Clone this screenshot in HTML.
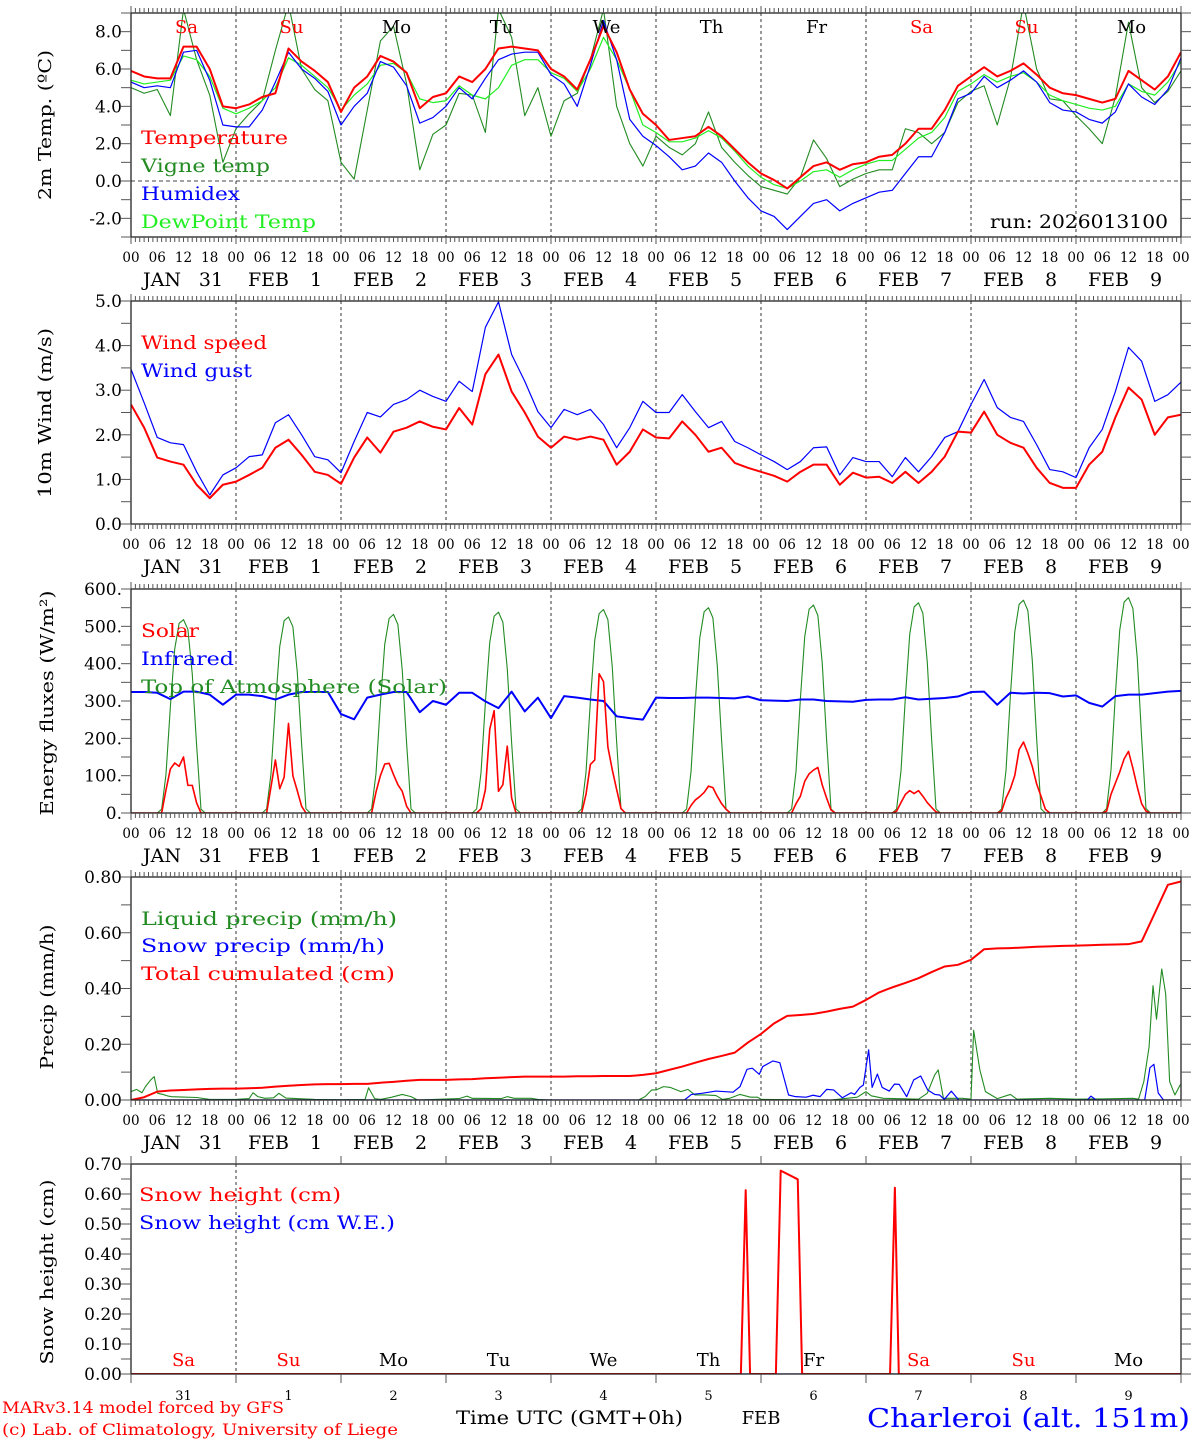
<!DOCTYPE html>
<html><head><meta charset="utf-8"><title>MAR forecast Charleroi</title>
<style>
html,body{margin:0;padding:0;background:#fff;}
svg{display:block;}
text{font-family:"DejaVu Serif","Liberation Serif",serif;}
</style></head>
<body>
<svg id="chart" width="1194" height="1440" viewBox="0 0 1194 1440" xmlns="http://www.w3.org/2000/svg">
<defs>
<clipPath id="c0"><rect x="131" y="13" width="1050" height="224"/></clipPath>
<clipPath id="c1"><rect x="131" y="301" width="1050" height="223"/></clipPath>
<clipPath id="c2"><rect x="131" y="589" width="1050" height="224"/></clipPath>
<clipPath id="c3"><rect x="131" y="877" width="1050" height="223"/></clipPath>
<clipPath id="c4"><rect x="131" y="1164" width="1050" height="210"/></clipPath>
</defs>
<g id="grid"></g>
<g id="marks"></g>
<g id="axes"></g>

<!-- Legends -->
<g font-size="19">
<text x="141" y="144" fill="#ff0000" textLength="147" lengthAdjust="spacingAndGlyphs">Temperature</text>
<text x="141" y="172" fill="#228b22" textLength="129" lengthAdjust="spacingAndGlyphs">Vigne temp</text>
<text x="141" y="200" fill="#0000ff" textLength="99" lengthAdjust="spacingAndGlyphs">Humidex</text>
<text x="141" y="228" fill="#22ee22" textLength="175" lengthAdjust="spacingAndGlyphs">DewPoint Temp</text>
<text x="990" y="228" fill="#000" textLength="178" lengthAdjust="spacingAndGlyphs">run: 2026013100</text>
</g>
<g font-size="19">
<text x="141" y="349" fill="#ff0000" textLength="126" lengthAdjust="spacingAndGlyphs">Wind speed</text>
<text x="141" y="377" fill="#0000ff" textLength="111" lengthAdjust="spacingAndGlyphs">Wind gust</text>
</g>
<g font-size="19">
<text x="141" y="637" fill="#ff0000" textLength="58" lengthAdjust="spacingAndGlyphs">Solar</text>
<text x="141" y="665" fill="#0000ff" textLength="93" lengthAdjust="spacingAndGlyphs">Infrared</text>
<text x="141" y="693" fill="#228b22" textLength="306" lengthAdjust="spacingAndGlyphs">Top of Atmosphere (Solar)</text>
</g>
<g font-size="19">
<text x="141" y="925" fill="#228b22" textLength="256" lengthAdjust="spacingAndGlyphs">Liquid precip (mm/h)</text>
<text x="141" y="952" fill="#0000ff" textLength="244" lengthAdjust="spacingAndGlyphs">Snow precip (mm/h)</text>
<text x="141" y="980" fill="#ff0000" textLength="254" lengthAdjust="spacingAndGlyphs">Total cumulated (cm)</text>
</g>
<g font-size="19">
<text x="139" y="1201" fill="#ff0000" textLength="202" lengthAdjust="spacingAndGlyphs">Snow height (cm)</text>
<text x="139" y="1229" fill="#0000ff" textLength="256" lengthAdjust="spacingAndGlyphs">Snow height (cm W.E.)</text>
</g>

<!-- Y axis titles -->
<text font-size="18" text-anchor="middle" textLength="150" lengthAdjust="spacingAndGlyphs" transform="translate(51,125) rotate(-90)">2m Temp. (ºC)</text>
<text font-size="18" text-anchor="middle" textLength="170" lengthAdjust="spacingAndGlyphs" transform="translate(51,413) rotate(-90)">10m Wind (m/s)</text>
<text font-size="18" text-anchor="middle" textLength="225" lengthAdjust="spacingAndGlyphs" transform="translate(53,703) rotate(-90)">Energy fluxes (W/m²)</text>
<text font-size="18" text-anchor="middle" textLength="145" lengthAdjust="spacingAndGlyphs" transform="translate(53,997) rotate(-90)">Precip (mm/h)</text>
<text font-size="18" text-anchor="middle" textLength="185" lengthAdjust="spacingAndGlyphs" transform="translate(53,1272) rotate(-90)">Snow height (cm)</text>

<!-- footer -->
<text x="2" y="1413" font-size="16" fill="#ff0000" textLength="282" lengthAdjust="spacingAndGlyphs">MARv3.14 model forced by GFS</text>
<text x="2" y="1435" font-size="16" fill="#ff0000" textLength="396" lengthAdjust="spacingAndGlyphs">(c) Lab. of Climatology, University of Liege</text>
<text x="456" y="1424" font-size="19" fill="#000" textLength="227" lengthAdjust="spacingAndGlyphs">Time UTC (GMT+0h)</text>
<text x="761" y="1424" font-size="18" fill="#000" text-anchor="middle">FEB</text>
<text x="867" y="1427" font-size="26" fill="#0000ff" textLength="323" lengthAdjust="spacingAndGlyphs">Charleroi (alt. 151m)</text>
</svg>

<script>
// ---------- DATA (3-hourly from 00 UTC Jan 31) ----------
const dayNames = ["Sa","Su","Mo","Tu","We","Th","Fr","Sa","Su","Mo"];
const dayColors = ["red","red","black","black","black","black","black","red","red","black"];
const dateMonth = ["JAN","FEB","FEB","FEB","FEB","FEB","FEB","FEB","FEB","FEB"];
const dateDay = ["31","1","2","3","4","5","6","7","8","9"];
const hourLabels = ["00","06","12","18"];

const temperature = [5.9,5.6,5.5,5.5,7.2,7.2,6.0,4.0, 3.9,4.1,4.5,4.7,7.1,6.4,5.9,5.3, 3.7,5.0,5.6,6.7,6.4,5.8,3.9,4.5, 4.7,5.6,5.3,6.0,7.1,7.2,7.1,7.0, 6.0,5.6,4.9,6.5,8.3,6.9,4.9,3.6, 3.0,2.2,2.3,2.4,2.9,2.4,1.7,1.0, 0.4,0.05,-0.4,0.2,0.8,1.0,0.6,0.9, 1.0,1.3,1.4,2.0,2.8,2.8,3.8,5.1, 5.6,6.1,5.6,5.9,6.3,5.7,5.0,4.7, 4.6,4.4,4.2,4.4,5.9,5.4,4.9,5.6,6.9];
const vigneTemp = [5.0,4.7,4.9,3.5,9.2,6.5,4.6,1.0, 2.8,3.6,4.3,7.0,9.5,6.0,4.9,4.3, 1.0,0.1,3.8,7.5,8.3,5.2,0.6,2.5, 3.0,4.7,4.6,2.6,9.2,7.7,3.5,5.0, 2.4,4.3,4.7,6.5,9.2,4.0,2.0,0.8, 2.4,1.8,1.4,2.0,3.7,1.8,1.0,0.3, -0.3,-0.5,-0.7,0.2,2.2,1.2,-0.3,0.1, 0.4,0.6,0.6,2.8,2.6,2.0,2.6,4.2, 4.8,5.1,3.0,5.5,9.5,6.0,4.4,4.3, 3.5,2.8,2.0,4.5,8.5,5.0,4.2,4.8,5.9];
const humidex = [5.3,5.0,5.1,5.0,6.9,7.0,5.4,3.0, 2.9,2.9,3.8,5.3,6.9,6.0,5.5,4.8, 3.0,4.0,4.7,6.4,6.1,5.1,3.1,3.4, 4.0,5.0,4.4,5.5,6.5,6.8,6.9,6.9, 5.7,5.2,4.0,6.2,8.6,6.5,3.3,2.4, 1.9,1.3,0.6,0.8,1.5,1.0,0.0,-0.9, -1.6,-1.9,-2.6,-1.9,-1.2,-1.0,-1.6,-1.2, -0.9,-0.6,-0.5,0.4,1.3,1.3,2.6,4.4, 4.7,5.6,5.0,5.4,5.9,5.3,4.2,3.8, 3.7,3.3,3.1,3.7,5.2,4.5,4.1,4.9,6.6];
const dewPoint = [5.4,5.2,5.3,5.4,6.7,6.5,5.6,3.9, 3.6,3.9,4.3,5.0,6.6,6.2,5.6,5.0, 3.8,4.6,5.2,6.2,6.3,5.8,4.4,4.2, 4.3,5.1,4.6,4.4,5.0,6.2,6.5,6.5, 5.8,5.5,4.8,6.0,7.7,6.5,4.9,3.0, 2.6,2.1,2.1,2.3,2.7,2.3,1.6,0.8, 0.2,-0.2,-0.4,0.0,0.5,0.6,0.2,0.6, 0.9,1.1,1.1,1.7,2.3,2.6,3.4,4.8, 5.2,5.7,5.3,5.6,5.8,5.3,4.6,4.3, 4.1,3.9,3.8,4.0,5.2,4.8,4.6,5.3,6.4];

const windSpeed = [2.68,2.16,1.49,1.4,1.33,0.88,0.58,0.88, 0.95,1.1,1.26,1.71,1.89,1.55,1.17,1.1, 0.9,1.49,1.94,1.6,2.07,2.16,2.3,2.18, 2.12,2.6,2.23,3.36,3.8,2.97,2.5,1.96, 1.71,1.96,1.89,1.96,1.89,1.33,1.62,2.12, 1.94,1.92,2.3,2.0,1.62,1.71,1.37,1.26, 1.17,1.08,0.95,1.17,1.33,1.33,0.88,1.15, 1.04,1.06,0.92,1.17,0.92,1.17,1.51,2.07, 2.05,2.52,2.0,1.82,1.71,1.26,0.92,0.81, 0.81,1.33,1.62,2.39,3.06,2.79,2.0,2.39,2.45];
const windGust = [3.47,2.72,1.94,1.82,1.78,1.17,0.65,1.1, 1.26,1.51,1.55,2.27,2.45,2.0,1.51,1.44, 1.15,1.85,2.5,2.4,2.68,2.79,3.0,2.86, 2.75,3.2,2.97,4.41,4.98,3.8,3.2,2.52, 2.16,2.57,2.45,2.57,2.23,1.71,2.16,2.75, 2.5,2.5,2.9,2.52,2.16,2.3,1.85,1.71, 1.55,1.4,1.22,1.4,1.71,1.73,1.1,1.49, 1.4,1.4,1.06,1.49,1.17,1.51,1.94,2.07, 2.68,3.24,2.61,2.39,2.3,1.78,1.22,1.17, 1.04,1.71,2.12,2.97,3.96,3.65,2.75,2.9,3.18];

const infrared = [324,324,322,305,325,325,317,290, 317,317,313,304,317,324,324,324, 265,251,309,317,324,324,270,300, 290,322,322,299,281,325,272,309, 254,313,309,304,300,259,254,250, 309,308,308,309,309,308,307,312, 302,301,300,304,304,300,299,298, 303,304,304,310,304,306,308,312, 324,325,290,322,320,322,321,312, 315,295,285,313,317,317,321,325,327];
// solar: per day, hourly values from 07 to 18 UTC
const solarDays = [
 [0,62,118,134,125,150,74,74,27,0,0,0],
 [0,70,142,65,96,240,100,60,18,0,0,0],
 [0,56,100,131,133,103,76,58,18,0,0,0],
 [0,11,62,224,274,58,76,179,40,0,0,0],
 [0,50,130,142,373,352,177,116,63,12,0,0],
 [0,20,35,44,55,72,68,45,25,10,0,0],
 [0,25,45,85,105,115,122,75,40,8,0,0],
 [5,28,50,60,52,60,45,28,15,3,0,0],
 [5,40,65,100,170,190,160,125,78,45,10,0],
 [5,50,80,110,145,165,120,70,25,5,0,0]];
// top of atmosphere: per day, hourly values from 07 to 17 UTC
const toaDays = [
 [10,104,285,440,508,518,492,373,181,10,0],
 [11,105,289,446,515,525,499,378,184,11,0],
 [11,106,293,452,521,532,505,383,186,11,0],
 [11,108,296,457,527,538,511,387,188,11,0],
 [11,109,300,463,534,545,518,392,191,11,0],
 [11,110,303,468,539,550,523,396,193,11,0],
 [11,111,306,473,546,557,529,401,195,11,0],
 [11,113,310,479,552,563,535,405,197,11,0],
 [11,114,314,485,559,570,542,410,200,11,0],
 [12,115,317,490,565,577,548,415,202,12,0]];

const totalCumulated = [0,0.01,0.03,0.034,0.036,0.038,0.04,0.041, 0.041,0.042,0.044,0.048,0.051,0.054,0.056,0.057, 0.057,0.058,0.058,0.062,0.065,0.069,0.072,0.072, 0.072,0.074,0.075,0.078,0.08,0.082,0.084,0.084, 0.084,0.084,0.085,0.085,0.086,0.086,0.086,0.09, 0.096,0.108,0.12,0.134,0.147,0.158,0.17,0.206, 0.237,0.275,0.302,0.305,0.309,0.317,0.327,0.335, 0.359,0.386,0.404,0.42,0.437,0.459,0.479,0.485, 0.503,0.541,0.544,0.545,0.547,0.55,0.551,0.553, 0.554,0.555,0.557,0.558,0.559,0.569,0.67,0.772,0.784];
const liquidHours = [0,1.3,2.5,3.3,4.5,5.3,6.1,7.3,8.5,9.3,11,15,18, 24,27,27.9,29,30.6,32.6,33.8,35.4,42, 48,53.5,54.3,55.7,57,59.6,62,64,65.5, 75,76.8,78,84.6,86,87.6,91.5,93, 96,116,117.5,119, 120,121.7,123.3,125.7,127.3,128.9,131.3,133.7,135.2,136.8,139.2,141.6,143.2,144.1, 160,166,168,169.2,172,180,182,183.7,184.5,185.7,190,192,192.6,194,195.3,198,201,202.5,210,216,222,229,230.3,231.5,232.7,233.6,234.4,235.6,236.5,237.4,238.6,239.8,240];
const liquidValues = [0.03,0.038,0.026,0.048,0.072,0.084,0.024,0.02,0.014,0.012,0.011,0.009,0.002, 0.002,0.005,0.026,0.012,0.006,0.008,0.024,0.007,0.002, 0.001,0.002,0.044,0.005,0.002,0.01,0.02,0.012,0, 0.005,0.014,0.006,0.005,0.012,0.006,0.006,0.002, 0,0,0.012,0.036, 0.036,0.048,0.045,0.03,0.038,0.018,0.018,0.016,0.002,0.006,0.02,0.01,0.01,0.002, 0,0.01,0.03,0.015,0.006,0.003,0.024,0.09,0.108,0.006,0.006,0.003,0.25,0.11,0.03,0.005,0.02,0.003,0.006,0.003,0.004,0.006,0.003,0.066,0.19,0.41,0.29,0.47,0.38,0.066,0.018,0.054,0.054];
const snowHours = [0,126.5,128.1,130.5,133.7,137.6,139.2,140.8,142,143.6,144.4,146.7,148.3,150.3,151.9,154.3,155.9,157.5,159,160.6,162.6,164.6,165.4,166.6,167.4,168.6,169.4,170.6,171.7,173.3,174.5,175.6,177.3,178.9,180.5,182.1,183.7,184.8,185.9,187.5,189.2,218.6,219.4,220.6,231.7,232.9,233.8,234.8,236,240];
const snowValues = [0,0,0.02,0.024,0.032,0.028,0.048,0.11,0.114,0.092,0.12,0.14,0.134,0.018,0.012,0.01,0.017,0.012,0.038,0.036,0.008,0.026,0.02,0.045,0.054,0.18,0.045,0.093,0.045,0.032,0.057,0.056,0.012,0.072,0.086,0.036,0.02,0.018,0.002,0.032,0,0,0.014,0,0,0.116,0.128,0.025,0,0];
const snowHeightHours = [0,139.4,140.5,141.5,147.4,148.5,152.4,153.4,173.5,174.6,175.5,240];
const snowHeightValues = [0,0,0.613,0,0,0.678,0.649,0,0,0.621,0,0];
const snowWEHours = [0,240];
const snowWEValues = [0,0];

const tempTicks = ["-2.0","0.0","2.0","4.0","6.0","8.0"];
const windTicks = ["0.0","1.0","2.0","3.0","4.0","5.0"];
const energyTicks = ["0.","100.","200.","300.","400.","500.","600."];
const precipTicks = ["0.00","0.20","0.40","0.60","0.80"];
const snowTicks = ["0.00","0.10","0.20","0.30","0.40","0.50","0.60","0.70"];

// ---------- GEOMETRY ----------
const NS = "http://www.w3.org/2000/svg";
const X0 = 131, X1 = 1181, HOURS = 240;
const panels = [
 {top:13, bot:237, min:-3, max:9, minor:1, ticks:tempTicks},
 {top:301, bot:524, min:0, max:5, minor:0.5, ticks:windTicks},
 {top:589, bot:813, min:0, max:600, minor:50, ticks:energyTicks},
 {top:877, bot:1100, min:0, max:0.8, minor:0.1, ticks:precipTicks},
 {top:1164, bot:1374, min:0, max:0.7, minor:0.05, ticks:snowTicks}];
function xOf(h){ return X0 + (X1 - X0) * h / HOURS; }
function yOf(p, v){ const P = panels[p]; return P.bot - (v - P.min) / (P.max - P.min) * (P.bot - P.top); }
function mk(tag, attrs, parent){ const e = document.createElementNS(NS, tag); for (const k in attrs) e.setAttribute(k, attrs[k]); parent.appendChild(e); return e; }

const grid = document.getElementById('grid');
const marks = document.getElementById('marks');
const axes = document.getElementById('axes');

function series(p, hours, vals, color, width, name){
  let d = "";
  for (let i = 0; i < vals.length; i++) d += (i ? "L" : "M") + xOf(hours[i]).toFixed(2) + "," + yOf(p, vals[i]).toFixed(2);
  const e = mk('path', {d:d, fill:'none', stroke:color, 'stroke-width':width, 'stroke-linejoin':'round', 'clip-path':'url(#c' + p + ')'}, marks);
  
  
}
function hours3(n){ const a = []; for (let i = 0; i < n; i++) a.push(i * 3); return a; }
function expandDays(rows, startHour){
  const h = [], v = [];
  for (let i = 0; i <= HOURS; i++){ h.push(i); v.push(0); }
  rows.forEach((r, d) => r.forEach((val, j) => { const idx = d * 24 + startHour + j; if (idx <= HOURS) v[idx] = val; }));
  return {h: h, v: v};
}

// ---------- AXES / GRID ----------
panels.forEach((P, p) => {
  const fr = mk('rect', {x:X0, y:P.top, width:X1 - X0, height:P.bot - P.top, fill:'none', stroke:'#222', 'stroke-width':1.3}, axes);
  
  
  for (let d = 1; d < 10; d++){
    if (p === 4 && d > 1) continue;
    const l = mk('line', {x1:xOf(d * 24), x2:xOf(d * 24), y1:P.top, y2:P.bot, stroke:'#333', 'stroke-width':1, 'stroke-dasharray':'3,3'}, grid);
    
    
  }
  if (p < 4){
    for (let h = 0; h <= HOURS; h++){
      const len = (h % 24 === 0) ? 7 : 5;
      mk('line', {x1:xOf(h), x2:xOf(h), y1:P.top - len, y2:P.top, stroke:'#555', 'stroke-width':1}, axes);
      mk('line', {x1:xOf(h), x2:xOf(h), y1:P.bot, y2:P.bot + len, stroke:'#555', 'stroke-width':1}, axes);
    }
    for (let d = 0; d < 10; d++){
      hourLabels.forEach((lab, k) => {
        const t = mk('text', {x:xOf(d * 24 + k * 6), y:P.bot + 25, 'font-size':13.5, 'text-anchor':'middle', fill:'#000'}, axes);
        t.textContent = lab;
        
        
      });
      const m = mk('text', {x:xOf(d * 24) + 12, y:P.bot + 49, 'font-size':19, fill:'#000'}, axes);
      m.textContent = dateMonth[d];
      
      
      const n = mk('text', {x:xOf(d * 24) + 80, y:P.bot + 49, 'font-size':19, 'text-anchor':'middle', fill:'#000'}, axes);
      n.textContent = dateDay[d];
      
      
    }
    const lab = mk('text', {x:X1, y:P.bot + 25, 'font-size':13.5, 'text-anchor':'middle', fill:'#000'}, axes);
    lab.textContent = "00";
    
    
  } else {
    for (let d = 0; d <= 10; d++){
      mk('line', {x1:xOf(d * 24), x2:xOf(d * 24), y1:P.top - 8, y2:P.top, stroke:'#555', 'stroke-width':1}, axes);
      mk('line', {x1:xOf(d * 24), x2:xOf(d * 24), y1:P.bot, y2:P.bot + 9, stroke:'#555', 'stroke-width':1}, axes);
    }
    for (let d = 0; d < 10; d++){
      const t = mk('text', {x:xOf(d * 24 + 12), y:P.bot + 26, 'font-size':13, 'text-anchor':'middle', fill:'#000'}, axes);
      t.textContent = dateDay[d];
      
      
      const w = mk('text', {x:xOf(d * 24 + 12), y:P.bot - 8, 'font-size':18, 'text-anchor':'middle', fill:dayColors[d]}, axes);
      w.textContent = dayNames[d];
      
      
    }
  }
  const nMinor = Math.round((P.max - P.min) / P.minor);
  for (let i = 0; i <= nMinor; i++){
    const v = P.min + i * P.minor, y = yOf(p, v);
    mk('line', {x1:X0 - 10, x2:X0, y1:y, y2:y, stroke:'#555', 'stroke-width':1}, axes);
    mk('line', {x1:X1, x2:X1 + 10, y1:y, y2:y, stroke:'#555', 'stroke-width':1}, axes);
  }
  P.ticks.forEach(lbl => {
    const v = parseFloat(lbl);
    const t = mk('text', {x:122, y:yOf(p, v) + 6, 'font-size':17, 'text-anchor':'end', fill:'#000'}, axes);
    t.textContent = lbl;
    
    
  });
});
const zl = mk('line', {x1:X0, x2:X1, y1:yOf(0, 0), y2:yOf(0, 0), stroke:'#444', 'stroke-width':1, 'stroke-dasharray':'4,3'}, grid);


for (let d = 0; d < 10; d++){
  const w = mk('text', {x:xOf(d * 24 + 12) + 3, y:33, 'font-size':18, 'text-anchor':'middle', fill:dayColors[d]}, axes);
  w.textContent = dayNames[d];
  
  
}

// ---------- SERIES ----------
const H81 = hours3(81);
series(0, H81, vigneTemp, '#228b22', 1.1, 'vigne-temp-line');
series(0, H81, dewPoint, '#22ee22', 1.2, 'dewpoint-line');
series(0, H81, humidex, '#0000ff', 1.2, 'humidex-line');
series(0, H81, temperature, '#ff0000', 2, 'temperature-line');

series(1, H81, windGust, '#0000ff', 1.2, 'wind-gust-line');
series(1, H81, windSpeed, '#ff0000', 2, 'wind-speed-line');

const toa = expandDays(toaDays, 7);
series(2, toa.h, toa.v, '#228b22', 1.1, 'toa-solar-line');
series(2, H81, infrared, '#0000ff', 2, 'infrared-line');
const sol = expandDays(solarDays, 7);
series(2, sol.h, sol.v, '#ff0000', 1.6, 'solar-line');

series(3, liquidHours, liquidValues, '#228b22', 1.1, 'liquid-precip-line');
series(3, snowHours, snowValues, '#0000ff', 1.2, 'snow-precip-line');
series(3, H81, totalCumulated, '#ff0000', 2, 'cumulated-precip-line');

series(4, snowWEHours, snowWEValues, '#0000ff', 1.2, 'snow-we-line');
series(4, snowHeightHours, snowHeightValues, '#ff0000', 2, 'snow-height-line');
</script>
</body></html>
